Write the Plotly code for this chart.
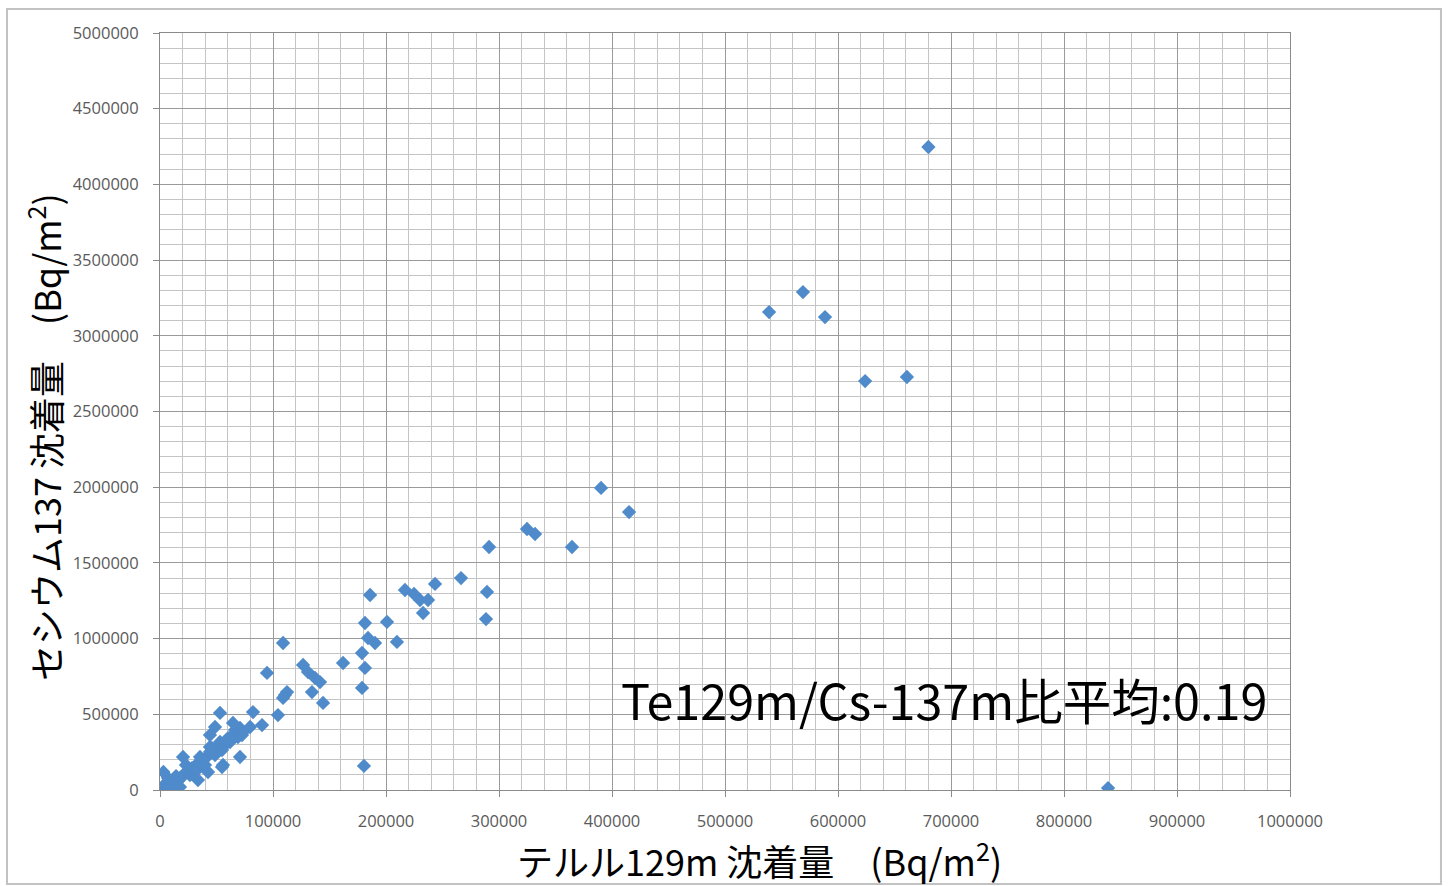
import plotly.graph_objects as go

# Tellurium-129m deposition (Bq/m2)
te129m = [
    3000, 4400, 6200, 8800, 10600, 13300, 15900, 17700, 14200, 20400,
    22100, 24800, 26500, 28300, 31000, 32700, 35400, 38100, 39800, 42500,
    44200, 46000, 48700, 51300, 53100, 54900, 57500, 60200, 62000, 64600,
    66400, 69000, 70800, 73500, 3000, 1000, 7100, 23000, 10600, 17700,
    53100, 82300, 104400, 110600, 48700, 64600, 90300, 79700, 72600, 59300,
    70800, 55800, 44200, 44200, 54900, 42500, 33600, 35400, 20400,
    108900, 94700, 126600, 131000, 137200, 141600, 134500, 144300, 112400, 108900,
    162000, 178800, 181400, 178800, 181400, 200900, 184100, 190300, 209700, 185900,
    180500,
    216800, 224800, 230100, 237200, 232800, 243400, 266400, 291200, 289400, 288500,
    324800, 331900, 364600, 390300, 415100,
    539000, 569000, 588500, 624000, 661000, 680000, 839000,
]

# Caesium-137 deposition (Bq/m2)
cs137 = [
    20000, 40000, 7000, 26000, 46000, 33000, 59000, 79000, 92000, 92000,
    112000, 125000, 99000, 145000, 159000, 132000, 178000, 198000, 165000, 225000,
    251000, 277000, 231000, 291000, 317000, 264000, 297000, 343000, 317000, 363000,
    396000, 350000, 410000, 383000, 119000, 3000, 79000, 165000, 10000, 20000,
    509000, 515000, 495000, 627000, 416000, 443000, 429000, 416000, 363000, 330000,
    218000, 165000, 363000, 284000, 152000, 119000, 66000, 218000, 218000,
    971000, 773000, 826000, 779000, 740000, 713000, 647000, 575000, 647000, 608000,
    839000, 905000, 806000, 674000, 1103000, 1110000, 1004000, 971000, 978000, 1288000,
    159000,
    1321000, 1295000, 1255000, 1255000, 1169000, 1361000, 1400000, 1605000, 1308000, 1129000,
    1724000, 1691000, 1605000, 1995000, 1836000,
    3157000, 3289000, 3124000, 2701000, 2728000, 4247000, 13000,
]

x_ticks = [0, 100000, 200000, 300000, 400000, 500000, 600000, 700000, 800000, 900000, 1000000]
y_ticks = [0, 500000, 1000000, 1500000, 2000000, 2500000, 3000000, 3500000, 4000000, 4500000, 5000000]

x_title = "テルル129m 沈着量\u3000(Bq/m<sup>2</sup>)"
y_title = "セシウム137 沈着量\u3000(Bq/m<sup>2</sup>)"
note = "Te129m/Cs-137m比平均:0.19"

fig = go.Figure()
fig.add_trace(go.Scatter(
    x=te129m, y=cs137, mode="markers",
    marker=dict(symbol="diamond", size=11, color="#4F8BCB", line=dict(width=0)),
    showlegend=False, hoverinfo="x+y",
))

tickfont = dict(family="Open Sans, Liberation Sans, sans-serif", size=16.5, color="#5a5a5a")
cjk = "Noto Sans CJK JP, Noto Sans, sans-serif"

fig.update_xaxes(
    range=[0, 1000000], tickvals=x_ticks, ticktext=[str(v) for v in x_ticks],
    showgrid=True, gridcolor="#9a9a9a", gridwidth=1,
    minor=dict(dtick=20000, tick0=0, showgrid=True, gridcolor="#c4c4c4", gridwidth=1),
    ticks="outside", ticklen=6, tickcolor="#8a8a8a",
    showline=True, linecolor="#8a8a8a", linewidth=1, mirror=True,
    tickfont=tickfont, zeroline=False, ticklabelstandoff=10,
)
fig.update_yaxes(
    range=[0, 5000000], tickvals=y_ticks, ticktext=[str(v) for v in y_ticks],
    showgrid=True, gridcolor="#9a9a9a", gridwidth=1,
    minor=dict(dtick=100000, tick0=0, showgrid=True, gridcolor="#c4c4c4", gridwidth=1),
    ticks="outside", ticklen=6, tickcolor="#8a8a8a",
    showline=True, linecolor="#8a8a8a", linewidth=1, mirror=True,
    tickfont=tickfont, zeroline=False, ticklabelstandoff=11,
)

# outer chart frame
fig.add_shape(type="rect", xref="paper", yref="paper",
              x0=-0.1354, x1=1.1336, y0=-0.1242, y1=1.0317,
              line=dict(color="#c2c2c2", width=2), fillcolor="rgba(0,0,0,0)", layer="below")

fig.add_annotation(text=x_title, xref="paper", yref="paper",
                   x=(759 - 160) / 1130, y=(790 - 859) / 757, xanchor="center", yanchor="middle",
                   showarrow=False, font=dict(family=cjk, size=36, color="#000000"))
fig.add_annotation(text=y_title, xref="paper", yref="paper", textangle=-90,
                   x=(44 - 160) / 1130, y=(790 - 437) / 757, xanchor="center", yanchor="middle",
                   showarrow=False, font=dict(family=cjk, size=36, color="#000000"))
fig.add_annotation(text=note, xref="paper", yref="paper",
                   x=(944 - 160) / 1130, y=(790 - 699) / 757, xanchor="center", yanchor="middle",
                   showarrow=False, font=dict(family=cjk, size=48.5, color="#000000"))

fig.update_layout(
    width=1448, height=886,
    margin=dict(l=160, r=158, t=33, b=96),
    paper_bgcolor="white", plot_bgcolor="white",
)

fig.write_html("out.html")
